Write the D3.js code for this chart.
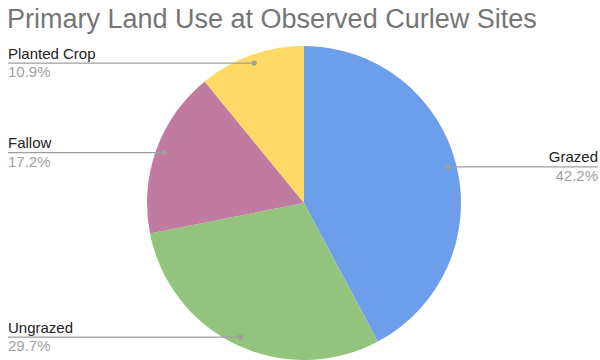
<!DOCTYPE html>
<html>
<head>
<meta charset="utf-8">
<script src="https://cdn.jsdelivr.net/npm/d3@7/dist/d3.min.js"></script>
<style>
  html, body { margin: 0; padding: 0; background: #fff; }
  svg { display: block; font-family: "Liberation Sans", Arial, sans-serif; }
</style>
</head>
<body>
<svg id="chart" width="600" height="360"></svg>
<script>
// Site land-use shares (percent), drawn clockwise from 12 o'clock
const categories = ["Grazed", "Ungrazed", "Fallow", "Planted Crop"];
const shares = [42.2, 29.7, 17.2, 10.9];
const colors = ["#6d9eeb", "#93c47d", "#c27ba0", "#ffd966"];
const titleText = "Primary Land Use at Observed Curlew Sites";

const W = 600, H = 360;
const cx = 304, cy = 203, R = 157;

const svg = d3.select("#chart");

svg.append("text")
  .attr("x", 7)
  .attr("y", 28)
  .attr("font-size", 27)
  .attr("fill", "#757575")
  .text(titleText);

const data = categories.map((c, i) => ({ name: c, value: shares[i], color: colors[i] }));

const pie = d3.pie().sort(null).value(d => d.value);
const arcs = pie(data);

const arc = d3.arc().innerRadius(0).outerRadius(R);
const dotArc = d3.arc().innerRadius(R * 0.946).outerRadius(R * 0.946);

const g = svg.append("g").attr("transform", `translate(${cx},${cy})`);

g.selectAll("path.slice")
  .data(arcs)
  .join("path")
  .attr("class", "slice")
  .attr("d", arc)
  .attr("fill", d => d.data.color);

// Leader lines with labels out to the chart edges
const labels = svg.append("g");
arcs.forEach(a => {
  const [dx, dy] = dotArc.centroid(a);
  const px = cx + dx, py = cy + dy;
  const right = dx > 0;
  const edgeX = right ? 598 : 8;

  labels.append("line")
    .attr("x1", edgeX).attr("y1", py)
    .attr("x2", px).attr("y2", py)
    .attr("stroke", "#9e9e9e")
    .attr("stroke-width", 1.3);

  labels.append("circle")
    .attr("cx", px).attr("cy", py)
    .attr("r", 2.6)
    .attr("fill", "#9e9e9e");

  labels.append("text")
    .attr("x", edgeX)
    .attr("y", py - 4.5)
    .attr("text-anchor", right ? "end" : "start")
    .attr("font-size", 15)
    .attr("fill", "#222")
    .text(a.data.name);

  labels.append("text")
    .attr("x", edgeX)
    .attr("y", py + 14)
    .attr("text-anchor", right ? "end" : "start")
    .attr("font-size", 15)
    .attr("fill", "#a0a0a0")
    .text(d3.format(".1f")(a.data.value) + "%");
});
</script>
</body>
</html>
